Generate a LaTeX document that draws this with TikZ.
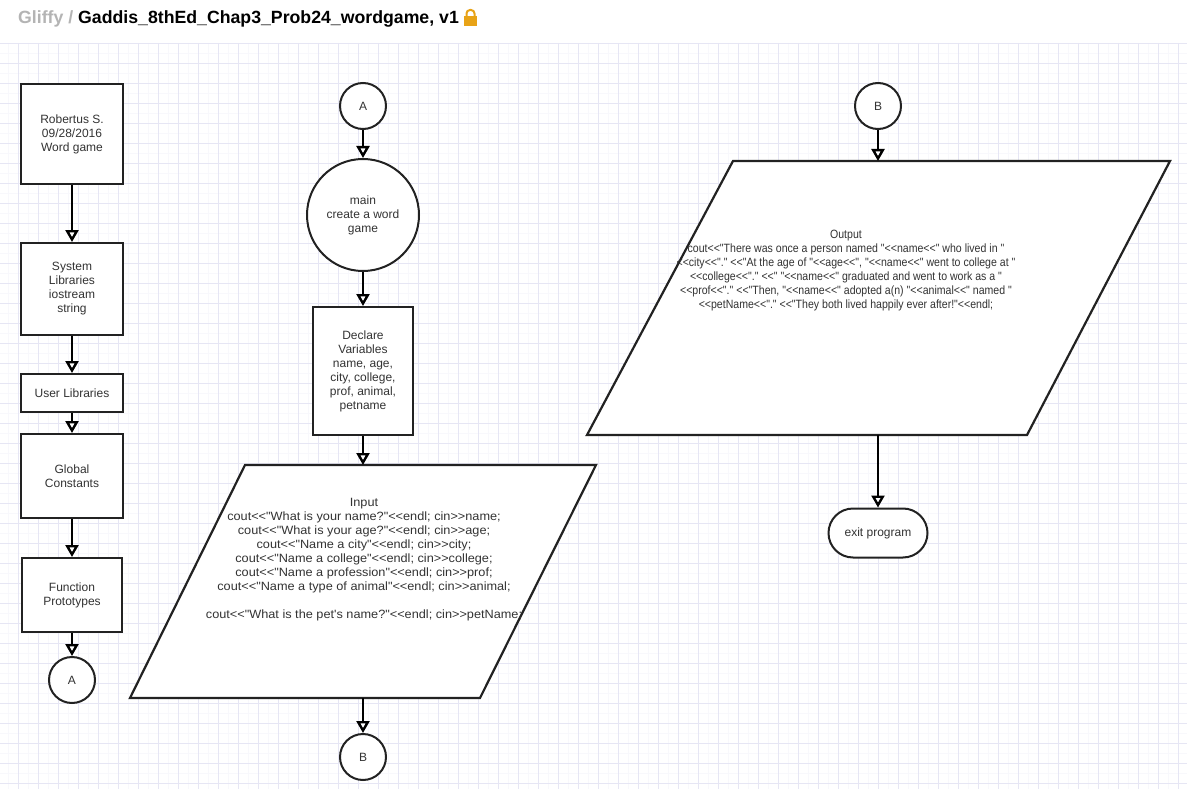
\documentclass[tikz,border=0pt]{standalone}
\usepackage{fontspec}
\newfontfamily\af{Liberation Sans}
\newfontfamily\afw{Liberation Sans}[FakeStretch=1.06]
\newfontfamily\afn{Liberation Sans}[FakeStretch=0.88]
\usetikzlibrary{arrows.meta,shapes.misc}
\definecolor{ink}{HTML}{222222}
\definecolor{txt}{HTML}{333333}
\definecolor{gmaj}{HTML}{E6E6F4}
\definecolor{gmin}{HTML}{F8F8FC}
\definecolor{gold}{HTML}{E8A317}
\begin{document}
\begin{tikzpicture}[x=1pt,y=-1pt,
  every node/.style={font=\af\fontsize{12}{14}\selectfont, text=txt, align=center},
  box/.style={draw=ink, line width=2pt, fill=white, rectangle, inner sep=0pt},
  conn/.style={draw=ink, line width=2pt, fill=white, circle, inner sep=0pt},
  term/.style={draw=ink, line width=2pt, fill=white, rounded rectangle, inner sep=0pt},
  para/.style={draw=ink, line width=2.2pt, fill=white, line join=miter},
  arr/.style={draw=black, line width=2.4pt, -{Triangle[width=13pt,length=12pt,fill=white]}}
]
\useasboundingbox (0,0) rectangle (1187,789);
\fill[white] (0,0) rectangle (1187,789);
% grid
\foreach \x in {8,28,...,1187} \draw[gmin, line width=0.6pt] (\x,43) -- (\x,789);
\foreach \y in {53,73,...,789} \draw[gmin, line width=0.6pt] (0,\y) -- (1187,\y);
\foreach \x in {18,38,...,1187} \draw[gmaj, line width=0.8pt] (\x,43) -- (\x,789);
\foreach \y in {43,63,...,789} \draw[gmaj, line width=0.8pt] (0,\y) -- (1187,\y);

% header
\node[anchor=west, inner sep=0pt, font=\af\bfseries\fontsize{17.7}{20}\selectfont] (title) at (18,19)
  {\textcolor[HTML]{B4B4B4}{Gliffy /} \textcolor{black}{Gaddis\_8thEd\_Chap3\_Prob24\_wordgame, v1}};
\draw[gold, line width=2pt, rounded corners=3.5pt] (466.5,18) -- (466.5,10) -- (474.5,10) -- (474.5,18);
\fill[gold] (464,16) rectangle (477,26);

% left column
\node[box, minimum width=102, minimum height=100] (b1) at (72,134) {Robertus S.\\09/28/2016\\Word game};
\node[box, minimum width=102, minimum height=92] (b2) at (72,289) {System\\Libraries\\iostream\\string};
\node[box, minimum width=102, minimum height=38] (b3) at (72,393) {User Libraries};
\node[box, minimum width=102, minimum height=84] (b4) at (72,476) {Global\\Constants};
\node[box, minimum width=100, minimum height=74] (b5) at (72,595) {Function\\Prototypes};
\node[conn, minimum size=46] (a1) at (72,680) {A};
\draw[arr] (b1) -- (b2);
\draw[arr] (b2) -- (b3);
\draw[arr] (b3) -- (b4);
\draw[arr] (b4) -- (b5);
\draw[arr] (b5) -- (a1);

% middle column
\node[conn, minimum size=46] (a2) at (363,106) {A};
\node[conn, minimum size=112] (main) at (363,215) {main\\create a word\\game};
\node[box, minimum width=100, minimum height=128] (decl) at (363,371) {Declare\\Variables\\name, age,\\city, college,\\prof, animal,\\petname};
\draw[para] (245,465) -- (596,465) -- (480,698) -- (130,698) -- cycle;
\coordinate (intop) at (363,465);
\coordinate (inbot) at (363,698);
\node[font=\afw\fontsize{12}{14}\selectfont] (intext) at (364,560) {Input\\
cout<<"What is your name?"<<endl; cin>>name;\\
cout<<"What is your age?"<<endl; cin>>age;\\
cout<<"Name a city"<<endl; cin>>city;\\
cout<<"Name a college"<<endl; cin>>college;\\
cout<<"Name a profession"<<endl; cin>>prof;\\
cout<<"Name a type of animal"<<endl; cin>>animal;\\[14pt]
cout<<"What is the pet's name?"<<endl; cin>>petName;};
\node[conn, minimum size=46] (b1c) at (363,757) {B};
\draw[arr] (a2) -- (main);
\draw[arr] (main) -- (decl);
\draw[arr] (decl) -- (intop);
\draw[arr] (inbot) -- (b1c);

% right column
\node[conn, minimum size=46] (b2c) at (878,106) {B};
\draw[para] (733,161) -- (1170,161) -- (1027,435) -- (587,435) -- cycle;
\coordinate (outtop) at (878,161);
\coordinate (outbot) at (878,435);
\node[font=\afn\fontsize{12}{14}\selectfont] (outtext) at (846,271) {Output\\
cout<<"There was once a person named "<<name<<" who lived in "\\
<<city<<"." <<"At the age of "<<age<<", "<<name<<" went to college at "\\
<<college<<"." <<" "<<name<<" graduated and went to work as a "\\
<<prof<<"." <<"Then, "<<name<<" adopted a(n) "<<animal<<" named "\\
<<petName<<"." <<"They both lived happily ever after!"<<endl;};
\node[term, minimum width=99, minimum height=49] (exit) at (878,533) {exit program};
\draw[arr] (b2c) -- (outtop);
\draw[arr] (outbot) -- (exit);
\end{tikzpicture}
\end{document}
